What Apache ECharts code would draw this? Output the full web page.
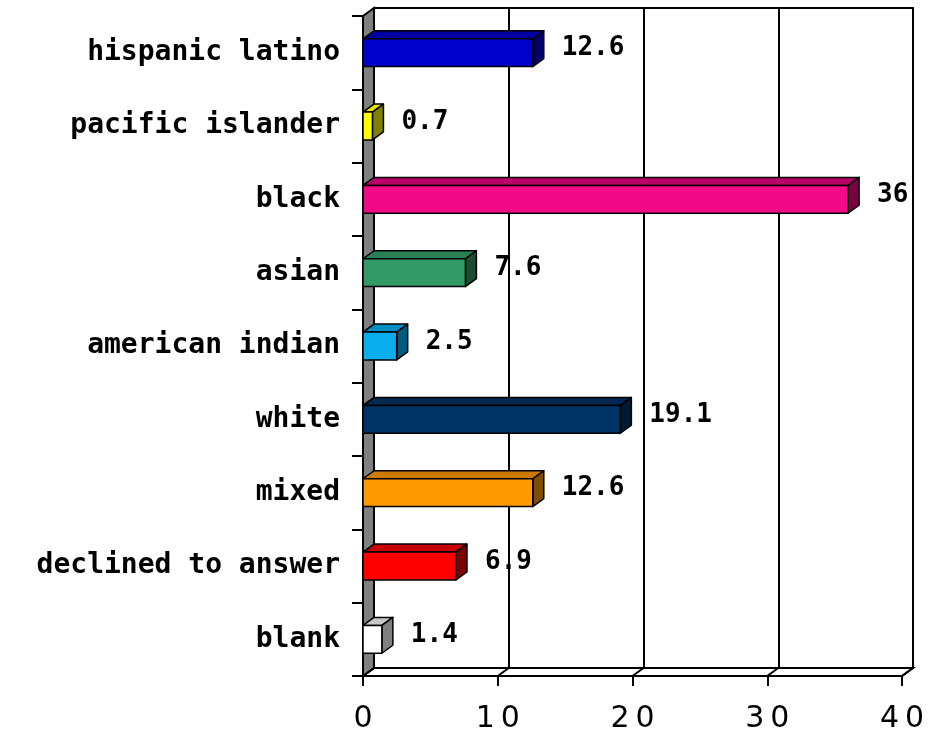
<!DOCTYPE html>
<html>
<head>
<meta charset="utf-8">
<script src="https://cdn.jsdelivr.net/npm/echarts@6/dist/echarts.min.js"></script>
<style>
  html, body { margin: 0; padding: 0; background: #fff; }
  #chart { width: 934px; height: 734px; }
</style>
</head>
<body>
<div id="chart"></div>
<script>
const categories = ['hispanic latino', 'pacific islander', 'black', 'asian', 'american indian', 'white', 'mixed', 'declined to answer', 'blank']
const values = [12.6, 0.7, 36, 7.6, 2.5, 19.1, 12.6, 6.9, 1.4]
const xTicks = [0, 10, 20, 30, 40]

// front / top / side colour of each bar
const faceColors = [
  ['#0000CC', '#0000A0', '#000066'],
  ['#FFFF00', '#E8E800', '#808000'],
  ['#F00A86', '#B80066', '#7A0042'],
  ['#339966', '#2A8055', '#1A4D33'],
  ['#0AAEEC', '#0090C6', '#005A7C'],
  ['#003366', '#002850', '#001A33'],
  ['#FF9900', '#CC7A00', '#804D00'],
  ['#FF0000', '#C80000', '#800000'],
  ['#FFFFFF', '#C8C8C8', '#808080']
]

const DX = 11, DY = -8
const LW = 2
const monoFont = '"DejaVu Sans Mono", monospace'

const chart = echarts.init(document.getElementById('chart'))

const renderBar = (params, api) => {
  const i = api.value(1)
  const v = api.value(0)
  const p0 = api.coord([0, i])
  const p1 = api.coord([v, i])
  const h = api.size([0, 1])[1] * 0.38
  const x0 = p0[0], x1 = p1[0]
  const yT = p0[1] - h / 2, yB = p0[1] + h / 2
  const c = faceColors[i]
  const edge = { stroke: '#000', lineWidth: 1.5, lineJoin: 'round' }
  return {
    type: 'group',
    children: [
      {
        type: 'polygon',
        shape: { points: [[x0, yT], [x1, yT], [x1 + DX, yT + DY], [x0 + DX, yT + DY]] },
        style: Object.assign({ fill: c[1] }, edge)
      },
      {
        type: 'polygon',
        shape: { points: [[x1, yT], [x1 + DX, yT + DY], [x1 + DX, yB + DY], [x1, yB]] },
        style: Object.assign({ fill: c[2] }, edge)
      },
      {
        type: 'rect',
        shape: { x: x0, y: yT, width: x1 - x0, height: h },
        style: Object.assign({ fill: c[0] }, edge)
      },
      {
        type: 'text',
        x: x1 + DX + 18,
        y: p0[1] - 4,
        style: {
          text: String(v),
          font: 'bold 26px ' + monoFont,
          fill: '#000',
          verticalAlign: 'middle',
          align: 'left'
        }
      }
    ]
  }
}

const option = {
  animation: false,
  grid: [
    { left: 363, right: 32, top: 16, bottom: 58 },
    { left: 374, right: 21, top: 8, bottom: 66, show: true, borderColor: '#000', borderWidth: LW, backgroundColor: '#fff', z: 0 }
  ],
  xAxis: [
    {
      gridIndex: 0, type: 'value', min: 0, max: 40, interval: 10, z: 3,
      axisLine: { show: true, lineStyle: { color: '#000', width: LW } },
      axisTick: { show: true, length: 10, lineStyle: { color: '#000', width: LW } },
      splitLine: { show: false },
      axisLabel: {
        margin: 28,
        color: '#000',
        fontFamily: '"DejaVu Sans", sans-serif',
        fontSize: 30,
        formatter: (v) => String(v).split('').join('\u2009')
      }
    },
    {
      gridIndex: 1, type: 'value', min: 0, max: 40, interval: 10, z: 0,
      axisLine: { show: false }, axisTick: { show: false }, axisLabel: { show: false },
      splitLine: { show: true, lineStyle: { color: '#000', width: LW } }
    }
  ],
  yAxis: [
    {
      gridIndex: 0, type: 'category', data: categories, inverse: true, z: 3,
      axisLine: { show: true, lineStyle: { color: '#000', width: LW } },
      axisTick: { show: true, length: 11, lineStyle: { color: '#000', width: LW } },
      axisLabel: {
        margin: 23,
        color: '#000',
        fontFamily: monoFont,
        fontWeight: 'bold',
        fontSize: 28
      }
    },
    {
      gridIndex: 1, type: 'category', data: categories, inverse: true, show: false
    }
  ],
  series: [
    {
      type: 'custom',
      xAxisIndex: 0,
      yAxisIndex: 0,
      z: 5,
      renderItem: renderBar,
      encode: { x: 0, y: 1 },
      data: values.map((v, i) => [v, i])
    }
  ]
}

chart.setOption(option)

// left wall and floor of the 3D box
const px = (v) => chart.convertToPixel({ xAxisIndex: 0 }, v)
const top0 = chart.convertToPixel({ yAxisIndex: 0 }, categories[0]) - 36.67
const xL = px(0), xR = px(40)
const yF = 676
const floorLines = xTicks.map(t => ({
  type: 'line', z: 2,
  shape: { x1: px(t), y1: yF, x2: px(t) + DX, y2: yF + DY },
  style: { stroke: '#000', lineWidth: LW }
}))

chart.setOption({
  graphic: [
    {
      type: 'polygon', z: 1,
      shape: { points: [[xL, yF], [xR, yF], [xR + DX, yF + DY], [xL + DX, yF + DY]] },
      style: { fill: '#fff', stroke: '#000', lineWidth: LW }
    },
    {
      type: 'polygon', z: 1,
      shape: { points: [[xL, top0], [xL + DX, top0 + DY], [xL + DX, yF + DY], [xL, yF]] },
      style: { fill: '#808080', stroke: '#000', lineWidth: LW }
    }
  ].concat(floorLines)
})
</script>
</body>
</html>
